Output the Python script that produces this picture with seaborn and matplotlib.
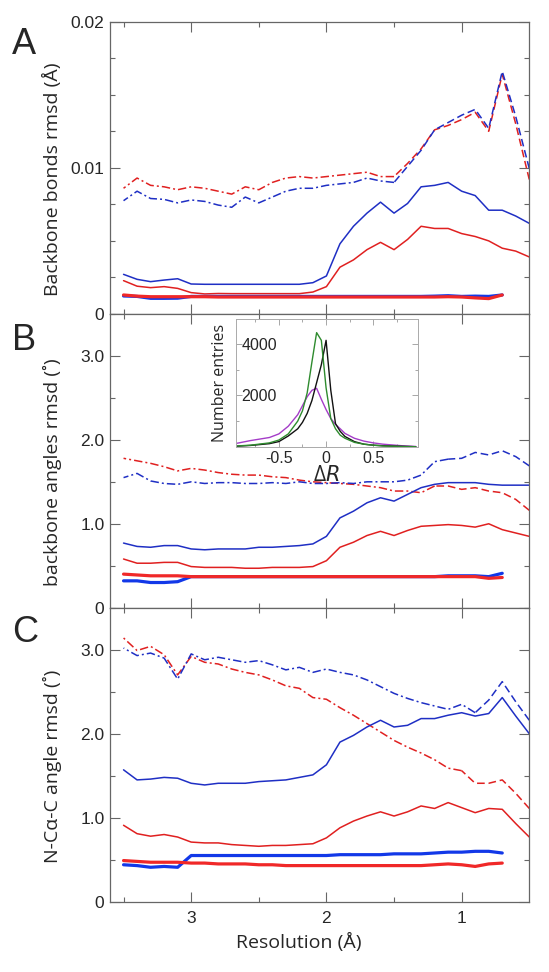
import matplotlib
matplotlib.use("Agg")
import matplotlib.pyplot as plt
import seaborn as sns
import pandas as pd
from matplotlib.ticker import MultipleLocator, FixedLocator, FuncFormatter

sns.set_style("ticks")
plt.rcParams['font.family'] = ['Open Sans', 'DejaVu Sans']

# resolution grid (Angstrom), thin lines go to 0.5, thick ones stop at 0.7
res = [3.5, 3.4, 3.3, 3.2, 3.1, 3.0, 2.9, 2.8, 2.7, 2.6, 2.5, 2.4, 2.3, 2.2, 2.1, 2.0,
       1.9, 1.8, 1.7, 1.6, 1.5, 1.4, 1.3, 1.2, 1.1, 1.0, 0.9, 0.8, 0.7, 0.6, 0.5]
res_thick = res[:29]

# Panel A: backbone bonds rmsd
a_blue_dash = [0.00775, 0.0084, 0.0079, 0.00784, 0.0076, 0.0078, 0.0077, 0.00745, 0.0073, 0.0080,
               0.0076, 0.0080, 0.0084, 0.0086, 0.0086, 0.0088, 0.0089, 0.0090, 0.0093, 0.0091,
               0.0090, 0.0101, 0.0112, 0.0126, 0.0131, 0.0136, 0.0140, 0.0127, 0.0166, 0.0135, 0.00995]
a_red_dash = [0.0086, 0.0093, 0.0088, 0.0087, 0.0085, 0.0087, 0.0086, 0.0084, 0.0082, 0.0087,
              0.0085, 0.0090, 0.0093, 0.0094, 0.0093, 0.0094, 0.0095, 0.0096, 0.0097, 0.0094,
              0.0094, 0.0103, 0.0113, 0.0126, 0.0129, 0.0133, 0.0138, 0.0125, 0.0164, 0.0130, 0.0092]
a_blue = [0.00271, 0.00237, 0.00221, 0.00232, 0.00241, 0.00205, 0.00203, 0.00203, 0.00203, 0.00203,
          0.00203, 0.00203, 0.00203, 0.00203, 0.00214, 0.0026, 0.0048, 0.0060, 0.0069, 0.00765,
          0.0069, 0.00756, 0.0087, 0.0088, 0.0090, 0.0084, 0.0081, 0.0071, 0.0071, 0.0067, 0.0062]
a_red = [0.00228, 0.0019, 0.0018, 0.00187, 0.00175, 0.00146, 0.00137, 0.0014, 0.00139, 0.00139,
         0.00139, 0.00139, 0.00139, 0.00139, 0.0015, 0.00187, 0.0032, 0.0037, 0.0044, 0.0049,
         0.0044, 0.0051, 0.0060, 0.00585, 0.00585, 0.0055, 0.0053, 0.0050, 0.0045, 0.0043, 0.0039]
a_blue_thick = [0.00123, 0.0012, 0.00107, 0.00107, 0.00108, 0.0012, 0.0012, 0.0012, 0.0012, 0.0012,
                0.0012, 0.0012, 0.0012, 0.0012, 0.0012, 0.0012, 0.0012, 0.0012, 0.0012, 0.0012,
                0.0012, 0.0012, 0.0012, 0.00122, 0.00125, 0.0012, 0.00122, 0.0012, 0.0013]
a_red_thick = [0.0013, 0.00122, 0.00118, 0.00118, 0.00118, 0.00118, 0.00118, 0.00116, 0.00116, 0.00116,
               0.00116, 0.00116, 0.00116, 0.00116, 0.00116, 0.00116, 0.00116, 0.00116, 0.00116, 0.00116,
               0.00116, 0.00116, 0.00116, 0.00116, 0.00118, 0.00116, 0.0011, 0.00105, 0.0013]

# Panel B: backbone angles rmsd
b_blue_dash = [1.55, 1.60, 1.51, 1.48, 1.47, 1.50, 1.48, 1.49, 1.49, 1.48, 1.48, 1.49, 1.48, 1.50,
               1.48, 1.48, 1.49, 1.48, 1.50, 1.50, 1.50, 1.52, 1.58, 1.74, 1.77, 1.78, 1.85, 1.82,
               1.87, 1.80, 1.69]
b_red_dash = [1.78, 1.75, 1.72, 1.68, 1.63, 1.66, 1.64, 1.61, 1.59, 1.58, 1.58, 1.56, 1.55, 1.52,
              1.50, 1.49, 1.48, 1.47, 1.45, 1.43, 1.39, 1.39, 1.37, 1.45, 1.45, 1.41, 1.43, 1.39,
              1.37, 1.29, 1.16]
b_blue = [0.77, 0.73, 0.72, 0.74, 0.74, 0.70, 0.69, 0.70, 0.70, 0.70, 0.72, 0.72, 0.73, 0.74, 0.76,
          0.85, 1.07, 1.15, 1.25, 1.31, 1.27, 1.35, 1.43, 1.47, 1.49, 1.49, 1.49, 1.47, 1.46, 1.46, 1.46]
b_red = [0.58, 0.53, 0.53, 0.54, 0.54, 0.49, 0.48, 0.48, 0.48, 0.47, 0.47, 0.48, 0.48, 0.48, 0.49,
         0.56, 0.72, 0.78, 0.86, 0.91, 0.86, 0.92, 0.97, 0.98, 0.99, 0.98, 0.96, 1.00, 0.93, 0.89, 0.85]
b_blue_thick = [0.32, 0.32, 0.30, 0.30, 0.31, 0.37, 0.37, 0.37, 0.37, 0.37, 0.37, 0.37, 0.37, 0.37,
                0.37, 0.37, 0.37, 0.37, 0.37, 0.37, 0.37, 0.37, 0.37, 0.37, 0.38, 0.38, 0.38, 0.37, 0.41]
b_red_thick = [0.40, 0.39, 0.38, 0.38, 0.38, 0.37, 0.37, 0.37, 0.37, 0.37, 0.37, 0.37, 0.37, 0.37,
               0.37, 0.37, 0.37, 0.37, 0.37, 0.37, 0.37, 0.37, 0.37, 0.37, 0.37, 0.37, 0.37, 0.35, 0.36]

# Panel C: N-CA-C angle rmsd
c_blue_dash = [3.02, 2.93, 2.96, 2.90, 2.65, 2.95, 2.88, 2.91, 2.88, 2.85, 2.87, 2.82, 2.76, 2.79,
               2.73, 2.77, 2.73, 2.70, 2.64, 2.56, 2.48, 2.42, 2.37, 2.33, 2.29, 2.35, 2.25, 2.40,
               2.62, 2.38, 2.16]
c_red_dash = [3.14, 2.99, 3.04, 2.94, 2.70, 2.92, 2.85, 2.83, 2.77, 2.73, 2.70, 2.64, 2.57, 2.54,
              2.43, 2.41, 2.31, 2.22, 2.12, 2.02, 1.92, 1.84, 1.77, 1.69, 1.59, 1.56, 1.41, 1.41,
              1.45, 1.29, 1.11]
c_blue = [1.57, 1.45, 1.46, 1.48, 1.47, 1.41, 1.39, 1.41, 1.41, 1.41, 1.43, 1.44, 1.45, 1.48, 1.51,
          1.63, 1.90, 1.98, 2.08, 2.16, 2.08, 2.10, 2.18, 2.18, 2.22, 2.25, 2.21, 2.24, 2.43, 2.21, 2.00]
c_red = [0.91, 0.81, 0.78, 0.80, 0.77, 0.71, 0.70, 0.70, 0.68, 0.67, 0.66, 0.67, 0.67, 0.68, 0.69,
         0.76, 0.88, 0.96, 1.02, 1.07, 1.02, 1.07, 1.14, 1.11, 1.18, 1.12, 1.06, 1.11, 1.10, 0.93, 0.77]
c_blue_thick = [0.44, 0.43, 0.41, 0.42, 0.41, 0.55, 0.55, 0.55, 0.55, 0.55, 0.55, 0.55, 0.55, 0.55,
                0.55, 0.55, 0.56, 0.56, 0.56, 0.56, 0.57, 0.57, 0.57, 0.58, 0.59, 0.59, 0.60, 0.60, 0.58]
c_red_thick = [0.49, 0.48, 0.47, 0.47, 0.47, 0.46, 0.46, 0.45, 0.45, 0.45, 0.44, 0.44, 0.43, 0.43,
               0.43, 0.43, 0.43, 0.43, 0.43, 0.43, 0.43, 0.43, 0.43, 0.44, 0.45, 0.44, 0.42, 0.45, 0.46]

# inset: Delta R distributions
dr = [-0.95, -0.8, -0.6, -0.5, -0.4, -0.3, -0.25, -0.2, -0.15, -0.1, -0.05, 0.0,
      0.05, 0.1, 0.15, 0.2, 0.3, 0.4, 0.5, 0.6, 0.8, 0.95]
dr_green = [30, 60, 150, 260, 500, 1000, 1400, 2100, 3300, 4450, 4150, 2300,
            1100, 700, 450, 330, 170, 100, 60, 30, 10, 0]
dr_black = [20, 50, 120, 200, 420, 700, 950, 1300, 1800, 2500, 3200, 4150,
            2200, 900, 600, 400, 200, 100, 60, 40, 15, 0]
dr_purple = [130, 240, 360, 500, 800, 1250, 1600, 1950, 2200, 2280, 1850, 1450,
             1100, 870, 700, 520, 330, 220, 150, 100, 40, 10]

BLUE = '#1f2fc4'
RED = '#e02020'
TBLUE = '#1238e8'
TRED = '#f02828'
DASHDOT = (0, (5.5, 2, 1.3, 2))
DASHED = (0, (5, 2.5))
TICK_FONT = ['Liberation Sans Narrow', 'Liberation Sans', 'DejaVu Sans']

fig = plt.figure(figsize=(5.49, 9.72), dpi=100)
left, width = 0.2004, 0.7637
ax_a = fig.add_axes([left, 0.6770, width, 0.3007])
ax_b = fig.add_axes([left, 0.3748, width, 0.3022])
ax_c = fig.add_axes([left, 0.0723, width, 0.3025])


def dash_line(ax, y, color, split):
    df = pd.DataFrame({'res': res, 'val': y})
    sns.lineplot(data=df[df.res >= split - 1e-9], x='res', y='val', ax=ax, color=color,
                 lw=1.1, linestyle=DASHDOT)
    sns.lineplot(data=df[df.res <= split + 1e-9], x='res', y='val', ax=ax, color=color,
                 lw=1.1, linestyle=DASHED)


def panel(ax, bd, rd, bs, rs, bt, rt, bsplit, rsplit):
    dash_line(ax, rd, RED, rsplit)
    dash_line(ax, bd, BLUE, bsplit)
    sns.lineplot(x=res, y=bs, ax=ax, color=BLUE, lw=1.1)
    sns.lineplot(x=res, y=rs, ax=ax, color=RED, lw=1.1)
    sns.lineplot(x=res_thick, y=bt, ax=ax, color=TBLUE, lw=2.3)
    sns.lineplot(x=res_thick, y=rt, ax=ax, color=TRED, lw=2.3)
    ax.set_xlim(3.6, 0.5)
    ax.xaxis.set_major_locator(FixedLocator([3, 2, 1]))
    ax.xaxis.set_minor_locator(FixedLocator([3.5, 2.5, 1.5]))
    ax.tick_params(which='both', direction='in', top=True, right=True, color='#666666',
                   width=0.8, labelsize=12.5)
    ax.tick_params(which='major', length=7)
    ax.tick_params(which='minor', length=3.5)
    ax.tick_params(axis='y', pad=4)
    ax.tick_params(axis='x', pad=7)
    for s in ax.spines.values():
        s.set_color('#666666')
        s.set_linewidth(0.9)
    ax.set_xlabel('')


panel(ax_a, a_blue_dash, a_red_dash, a_blue, a_red, a_blue_thick, a_red_thick, 1.5, 1.5)
panel(ax_b, b_blue_dash, b_red_dash, b_blue, b_red, b_blue_thick, b_red_thick, 1.1, 1.2)
panel(ax_c, c_blue_dash, c_red_dash, c_blue, c_red, c_blue_thick, c_red_thick, 0.9, 1.0)

ax_a.set_ylim(0, 0.02)
ax_a.yaxis.set_major_locator(FixedLocator([0, 0.01, 0.02]))
ax_a.yaxis.set_minor_locator(MultipleLocator(0.0025))
ax_a.yaxis.set_major_formatter(FuncFormatter(lambda v, p: '0' if v == 0 else f'{v:.2f}'))

for ax in (ax_b, ax_c):
    ax.set_ylim(0, 3.5)
    ax.yaxis.set_major_locator(FixedLocator([0, 1, 2, 3]))
    ax.yaxis.set_minor_locator(MultipleLocator(0.5))
    ax.yaxis.set_major_formatter(FuncFormatter(lambda v, p: '0' if v == 0 else f'{v:.1f}'))

for ax in (ax_a, ax_b):
    ax.tick_params(axis='x', labelbottom=False)

for ax in (ax_a, ax_b, ax_c):
    for lab in ax.get_xticklabels() + ax.get_yticklabels():
        lab.set_family(TICK_FONT)

ax_a.set_ylabel('Backbone bonds rmsd (Å)', fontsize=14)
ax_b.set_ylabel('backbone angles rmsd (˚)', fontsize=14)
ax_c.set_ylabel('N-C\u03b1-C angle rmsd (˚)', fontsize=14)
for ax in (ax_a, ax_b, ax_c):
    ax.yaxis.set_label_coords(-0.115, 0.46)
ax_c.set_xlabel('Resolution (Å)', fontsize=14)
ax_c.xaxis.set_label_coords(0.45, -0.105)

fig.text(0.022, 0.972, 'A', fontsize=26, va='top', family=['Liberation Sans', 'DejaVu Sans'])
fig.text(0.022, 0.668, 'B', fontsize=26, va='top', family=['Liberation Sans', 'DejaVu Sans'])
fig.text(0.022, 0.367, 'C', fontsize=26, va='top', family=['Liberation Sans', 'DejaVu Sans'])

# inset
ax_in = fig.add_axes([0.4293, 0.5404, 0.3315, 0.1311])
sns.lineplot(x=dr, y=dr_purple, ax=ax_in, color='#a43cc8', lw=1.0)
sns.lineplot(x=dr, y=dr_black, ax=ax_in, color='#111111', lw=1.0)
sns.lineplot(x=dr, y=dr_green, ax=ax_in, color='#2e8b2e', lw=1.0)
ax_in.set_xlim(-0.957, 0.97)
ax_in.set_ylim(0, 4970)
ax_in.xaxis.set_major_locator(FixedLocator([-0.5, 0, 0.5]))
ax_in.xaxis.set_minor_locator(FixedLocator([-0.75, -0.25, 0.25, 0.75]))
ax_in.xaxis.set_major_formatter(FuncFormatter(lambda v, p: '0' if v == 0 else f'{v:.1f}'))
ax_in.yaxis.set_major_locator(FixedLocator([2000, 4000]))
ax_in.yaxis.set_minor_locator(FixedLocator([1000, 3000]))
ax_in.tick_params(which='both', direction='in', top=True, right=True, color='#999999',
                  width=0.6, labelsize=11.5)
ax_in.tick_params(which='major', length=4)
ax_in.tick_params(which='minor', length=2.5)
ax_in.tick_params(axis='y', pad=-4)
ax_in.tick_params(axis='x', pad=3)
for lab in ax_in.get_yticklabels():
    lab.set_horizontalalignment('left')
for lab in ax_in.get_xticklabels() + ax_in.get_yticklabels():
    lab.set_family(TICK_FONT)
for s in ax_in.spines.values():
    s.set_color('#aaaaaa')
    s.set_linewidth(0.7)
ax_in.set_ylabel('Number entries', fontsize=11.5, labelpad=2)
ax_in.set_xlabel('Δ$R$', fontsize=15, labelpad=-1)

fig.savefig('out.png', dpi=100)
